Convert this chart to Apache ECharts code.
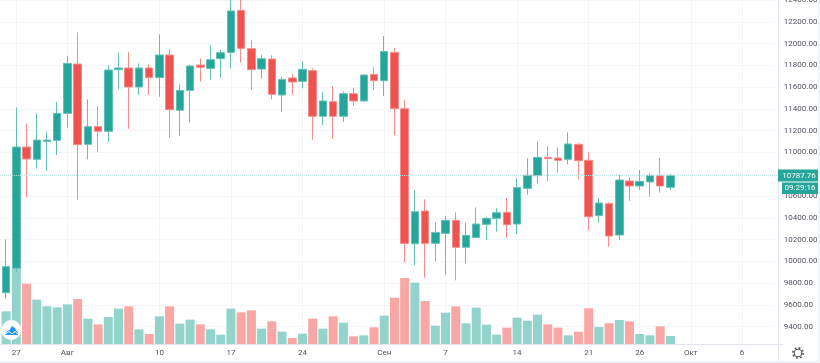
<!DOCTYPE html>
<html><head><meta charset="utf-8">
<style>html,body{margin:0;padding:0;background:#fff}#c{width:820px;height:363px;filter:blur(0.3px)}</style>
<script src="https://cdn.jsdelivr.net/npm/echarts@6/dist/echarts.min.js"></script>
</head><body><div id="c"></div>
<script>
const categories = ["25 Jul","26 Jul","27 Jul","28 Jul","29 Jul","30 Jul","31 Jul",
"1 Aug","2 Aug","3 Aug","4 Aug","5 Aug","6 Aug","7 Aug","8 Aug","9 Aug","10 Aug","11 Aug","12 Aug","13 Aug","14 Aug","15 Aug","16 Aug","17 Aug","18 Aug","19 Aug","20 Aug","21 Aug","22 Aug","23 Aug","24 Aug","25 Aug","26 Aug","27 Aug","28 Aug","29 Aug","30 Aug","31 Aug",
"1 Sep","2 Sep","3 Sep","4 Sep","5 Sep","6 Sep","7 Sep","8 Sep","9 Sep","10 Sep","11 Sep","12 Sep","13 Sep","14 Sep","15 Sep","16 Sep","17 Sep","18 Sep","19 Sep","20 Sep","21 Sep","22 Sep","23 Sep","24 Sep","25 Sep","26 Sep","27 Sep","28 Sep","29 Sep","30 Sep",
"1 Oct","2 Oct","3 Oct","4 Oct","5 Oct","6 Oct","7 Oct","8 Oct","9 Oct","10 Oct"];
const tickLabels = {"27 Jul":"27","1 Aug":"Авг","10 Aug":"10","17 Aug":"17","24 Aug":"24","1 Sep":"Сен","7 Sep":"7","14 Sep":"14","21 Sep":"21","26 Sep":"26","1 Oct":"Окт","6 Oct":"6"};
const opens = [9712,9936,11050,10937,11102,11111,11359,11812,11075,11237,11194,11760,11776,11601,11776,11687,11895,11387,11570,11803,11772,11861,11919,12305,11953,11766,11858,11528,11684,11653,11751,11332,11466,11332,11540,11473,11717,11659,11919,11402,10162,10462,10165,10257,10377,10129,10220,10340,10395,10450,10343,10670,10787,10955,10949,10937,11075,10928,10419,10530,10242,10738,10692,10729,10787,10680];
const closes = [9951,11050,10940,11114,11114,11359,11818,11072,11237,11194,11757,11776,11601,11776,11687,11895,11393,11570,11794,11782,11852,11916,12299,11956,11760,11861,11534,11671,11647,11763,11332,11473,11332,11540,11473,11711,11659,11926,11402,10165,10456,10165,10266,10377,10129,10239,10343,10395,10447,10337,10677,10790,10955,10943,10928,11078,10925,10410,10536,10233,10747,10692,10735,10787,10692,10787.76];
const lows = [9657,9900,10588,10854,10833,10977,11228,10563,10937,11004,11093,11580,11218,11528,11528,11512,11133,11151,11274,11650,11668,11687,11772,11825,11574,11675,11488,11371,11528,11589,11117,11252,11124,11280,11427,11466,11574,11518,11157,9988,9966,9850,10000,9878,9826,9979,10220,10196,10273,10217,10251,10612,10716,10738,10814,10891,10753,10282,10355,10135,10196,10554,10655,10594,10631,10655];
const highs = [10202,11414,11267,11359,11191,11463,11886,12103,11488,11427,11800,11916,11922,11818,11809,12085,11947,11626,11806,11864,11987,11941,12450,12450,12030,11895,11892,11696,11720,11837,11773,11555,11610,11561,11592,11720,11782,12069,11959,11482,10652,10569,10355,10416,10450,10355,10496,10410,10487,10582,10762,10946,11102,11059,11047,11185,11084,11001,10579,10542,10793,10768,10839,10808,10952,10802];
const volumes = [98,226,181,133,113,110,119,135,76,59,81,106,113,44,30,83,113,61,73,59,44,28,106,95,101,46,68,37,18,31,76,46,83,64,23,26,50,85,139,198,184,129,55,94,113,62,109,58,28,49,79,70,88,59,49,26,37,107,51,62,72,68,30,26,53,24];
const priceTicks = {min:9200,max:12400,step:200};
const lastPrice = 10787.76;
const lastPriceText = "10787.76";
const countdownText = "09:29:16";

const UP="#26a69a", DOWN="#ef5350", UPW="#62c0b6", DOWNW="#f68b89", UPV="#92d3cc", DOWNV="#f9a7a5", GRID="#f3f5fa", TXT="#50535e", EDGE="#e2e5ee";
const font='Roboto, "Liberation Sans", sans-serif';
const FS=8;
const candleData=[['-','-','-','-']].concat(opens.map((o,i)=>[o,closes[i],lows[i],highs[i]]));
const volData=[null].concat(volumes.map((v,i)=>({value:v,itemStyle:{color:closes[i]>=opens[i]?UPV:DOWNV}})));
const chart=echarts.init(document.getElementById('c'),null,{renderer:'canvas'});
const gridL=-4.12, gridW=786.94;
chart.setOption({
  animation:false,backgroundColor:'#fff',
  grid:[
    {left:gridL,width:gridW,top:0,height:344,outerBoundsMode:'none'},
    {left:gridL,width:gridW,top:0,height:348.5,outerBoundsMode:'none'}
  ],
  xAxis:[
    {type:'category',gridIndex:0,boundaryGap:false,data:categories,
     axisLine:{lineStyle:{color:EDGE,width:1}},axisTick:{show:false},
     splitLine:{show:true,interval:(i,v)=>!!tickLabels[v],lineStyle:{color:GRID,width:1}},
     axisLabel:{interval:(i,v)=>!!tickLabels[v],formatter:v=>tickLabels[v]||'',color:TXT,fontSize:FS,fontFamily:font,margin:5}},
    {type:'category',gridIndex:1,boundaryGap:false,data:categories,show:false}
  ],
  yAxis:[
    {type:'value',gridIndex:0,min:0,max:1032,show:false},
    {type:'value',gridIndex:1,position:'right',min:priceTicks.min,max:priceTicks.max,interval:priceTicks.step,
     axisLine:{show:false},axisTick:{show:false},
     splitLine:{show:true,showMinLine:false,lineStyle:{color:GRID,width:1}},
     axisLabel:{showMinLabel:false,margin:1,padding:[2,0,0,0],color:TXT,fontSize:FS,fontFamily:font,formatter:v=>v.toFixed(2)}}
  ],
  series:[
    {type:'bar',xAxisIndex:0,yAxisIndex:0,data:volData,barWidth:9,z:2},
    {type:'candlestick',xAxisIndex:1,yAxisIndex:1,data:candleData,barWidth:8,z:3,
     itemStyle:{color:UP,color0:DOWN,borderColor:UPW,borderColor0:DOWNW,borderWidth:1},
     markLine:{symbol:'none',silent:true,label:{show:false},
       lineStyle:{color:'#b5e0dc',type:'dotted',width:1},data:[{yAxis:lastPrice}]}}
  ]
});
const py=chart.convertToPixel({yAxisIndex:1},lastPrice);
chart.setOption({graphic:[
  {type:'rect',z:20,shape:{x:778.5,y:0,width:4.5,height:344},style:{fill:'#fff'}},
  {type:'line',z:21,shape:{x1:778.5,y1:0,x2:778.5,y2:361},style:{stroke:EDGE,lineWidth:1}},
  {type:'rect',z:21,shape:{x:0,y:361,width:820,height:2},style:{fill:'#eef0f5'}},
  {type:'rect',z:21,shape:{x:818,y:0,width:2,height:363},style:{fill:'#f1f3f7'}},
  {type:'rect',z:22,shape:{x:778,y:py-6,width:40,height:12},style:{fill:UP}},
  {type:'text',z:23,x:799,y:py,style:{text:lastPriceText,fill:'#fff',fontSize:FS,fontFamily:font,textAlign:'center',textVerticalAlign:'middle'}},
  {type:'rect',z:22,shape:{x:782,y:py+7,width:36,height:11.5},style:{fill:UP}},
  {type:'text',z:23,x:800,y:py+12.8,style:{text:countdownText,fill:'#fff',fontSize:FS,fontFamily:font,textAlign:'center',textVerticalAlign:'middle'}},
  {type:'circle',z:22,shape:{cx:798,cy:353,r:3.8},style:{fill:'none',stroke:'#50535e',lineWidth:1.1}},
  {type:'circle',z:22,shape:{cx:798,cy:353,r:5.2},style:{fill:'none',stroke:'#50535e',lineWidth:1.6,lineDash:[1.8,2.28]}},
  {type:'circle',z:24,shape:{cx:11.3,cy:330,r:10},style:{fill:'#fff'}},
  {type:'polygon',z:25,shape:{points:[[5,335],[7,331],[9.5,330],[12,326],[15,328],[16.5,331],[18,332],[18,335]]},style:{fill:'#2196f3'}},
  {type:'polyline',z:26,shape:{points:[[5,334],[9,331.5],[12,334],[15,331.5],[18,334]]},style:{stroke:'#fff',fill:'none',lineWidth:1}}
]});
</script></body></html>
